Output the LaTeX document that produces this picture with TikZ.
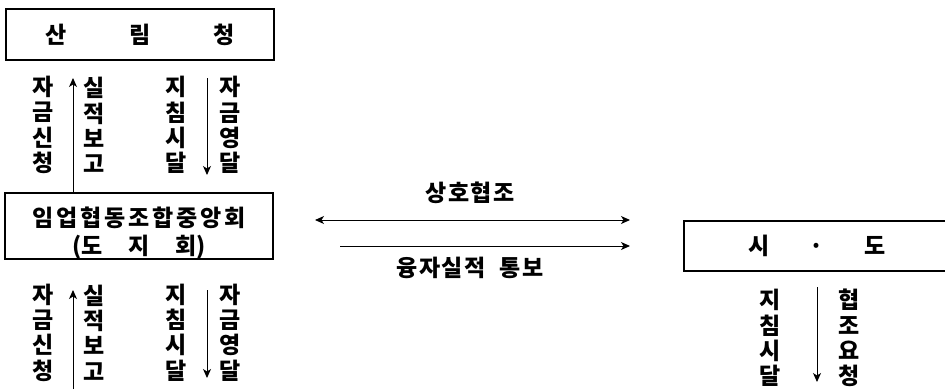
\documentclass[tikz,border=0pt]{standalone}
\usepackage{fontspec}
\setmainfont{Noto Sans CJK KR}
\usetikzlibrary{arrows.meta,positioning}

\begin{document}
\begin{tikzpicture}[auto,>={Stealth[length=9pt,width=8pt,inset=2.5pt]}, x=1pt, y=-1pt,
	every node/.style={font=\fontsize{23}{25.3}\selectfont\bfseries},
	box/.style={draw, line width=1.4pt, inner sep=0pt},
	col/.style={align=center, inner sep=0pt},
	flow/.style={line width=1pt}]
	\useasboundingbox (0,0) rectangle (945,389);

	% boxes
	\node[box, minimum width=268, minimum height=51] (sanlim) at (140,34.5) {산\hskip 63pt 림\hskip 63pt 청};
	\node[box, minimum width=268, minimum height=66] (johap) at (139,226) {};
	\node[col, align=center, font=\fontsize{23}{28}\selectfont\bfseries] (johaptext) at (139,233)
		{{\addfontfeature{LetterSpace=12}임업협동조합중앙회}\\(도\hskip 26pt 지\hskip 26pt 회)};
	\node[box, minimum width=266, minimum height=50] (sido) at (817,246) {시\hskip 40pt ·\hskip 40pt 도};

	% upper columns
	\node[col] (sinchung1) at (43,125) {자\\금\\신\\청};
	\node[col] (bogo1) at (94,125) {실\\적\\보\\고};
	\node[col] (sidal1) at (176,125) {지\\침\\시\\달};
	\node[col] (yeongdal1) at (230,125) {자\\금\\영\\달};

	% lower columns
	\node[col] (sinchung2) at (43,332.5) {자\\금\\신\\청};
	\node[col] (bogo2) at (94,332.5) {실\\적\\보\\고};
	\node[col] (sidal2) at (176,332.5) {지\\침\\시\\달};
	\node[col] (yeongdal2) at (230,332.5) {자\\금\\영\\달};

	% right columns
	\node[col] (sidal3) at (770,338) {지\\침\\시\\달};
	\node[col] (yocheong3) at (849,338) {협\\조\\요\\청};

	% middle labels
	\node (hyeopjo) at (470,193) {{\addfontfeature{LetterSpace=6}상호협조}};
	\node (tongbo) at (470,268) {{\addfontfeature{LetterSpace=6}융자실적}\hskip 14pt{\addfontfeature{LetterSpace=6}통보}};

	\coordinate (up1) at (73,78);
	\coordinate (dn1a) at (207,78);
	\coordinate (dn1b) at (207,175);
	\coordinate (up2a) at (73,389);
	\coordinate (up2b) at (73,290);
	\coordinate (dn2a) at (207,290);
	\coordinate (dn2b) at (207,378);
	\coordinate (dn3a) at (817,287);
	\coordinate (dn3b) at (817,382);
	\coordinate (mutualL) at (315,220);
	\coordinate (mutualR) at (630,220);
	\coordinate (noticeL) at (340,246);
	\coordinate (noticeR) at (630,246);

	\path[->, flow]
	(johap.north -| up1) edge (up1)
	(dn1a) edge (dn1b)

	(up2a) edge (up2b)
	(dn2a) edge (dn2b)

	(dn3a) edge (dn3b)

	(mutualL) edge [<->] (mutualR)
	(noticeL) edge (noticeR)
	;
\end{tikzpicture}
\end{document}
